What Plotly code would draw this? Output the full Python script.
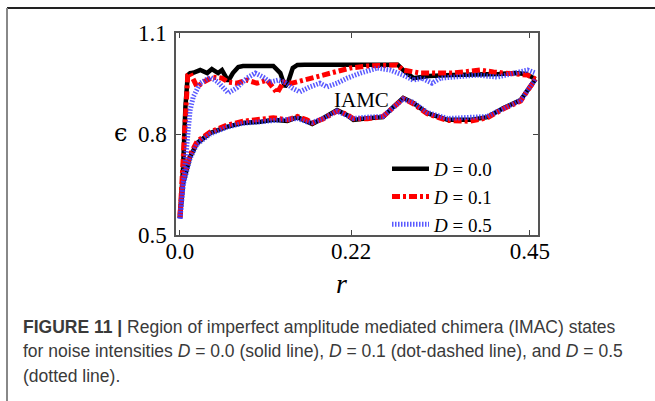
import plotly.graph_objects as go

# ---------------- data ----------------
# D = 0.0 (solid)
r_up_d0 = [0.0, 0.004, 0.007, 0.010, 0.013, 0.017, 0.026, 0.035, 0.041, 0.049, 0.054, 0.062,
           0.068, 0.075, 0.081, 0.120, 0.129, 0.135, 0.139, 0.145, 0.151, 0.160, 0.280, 0.287,
           0.300, 0.320, 0.350, 0.380, 0.410, 0.430, 0.445, 0.457]
e_up_d0 = [0.55, 0.70, 0.88, 0.975, 0.981, 0.982, 0.990, 0.981, 0.993, 0.981, 0.990, 0.957,
           0.981, 0.999, 1.002, 1.002, 0.981, 0.940, 0.954, 0.996, 1.005, 1.006, 1.006, 0.990,
           0.966, 0.972, 0.975, 0.975, 0.978, 0.981, 0.978, 0.963]
r_lo_d0 = [0.0, 0.004, 0.013, 0.022, 0.039, 0.060, 0.081, 0.103, 0.120, 0.138, 0.151, 0.163,
           0.170, 0.184, 0.202, 0.215, 0.223, 0.241, 0.261, 0.274, 0.287, 0.300, 0.318, 0.344,
           0.373, 0.395, 0.416, 0.438, 0.450, 0.457]
e_lo_d0 = [0.553, 0.654, 0.732, 0.773, 0.803, 0.821, 0.833, 0.836, 0.842, 0.839, 0.850, 0.839,
           0.830, 0.847, 0.871, 0.856, 0.842, 0.847, 0.850, 0.880, 0.907, 0.892, 0.862, 0.842,
           0.842, 0.850, 0.877, 0.901, 0.940, 0.963]

# D = 0.1 (dot-dashed)
r_up_d1 = [0.0, 0.004, 0.007, 0.010, 0.013, 0.017, 0.022, 0.030, 0.042, 0.054, 0.062, 0.073,
           0.086, 0.099, 0.112, 0.125, 0.133, 0.144, 0.158, 0.176, 0.197, 0.219, 0.241, 0.262,
           0.279, 0.287, 0.309, 0.351, 0.386, 0.403, 0.425, 0.447, 0.457]
e_up_d1 = [0.55, 0.72, 0.90, 0.975, 0.981, 0.960, 0.940, 0.954, 0.969, 0.966, 0.954, 0.951,
           0.960, 0.951, 0.960, 0.922, 0.954, 0.951, 0.960, 0.969, 0.984, 0.996, 1.002, 1.005,
           1.005, 0.990, 0.981, 0.981, 0.990, 0.984, 0.981, 0.975, 0.963]
r_lo_d1 = [0.0, 0.004, 0.013, 0.022, 0.039, 0.060, 0.081, 0.103, 0.120, 0.138, 0.151, 0.163,
           0.170, 0.184, 0.202, 0.215, 0.223, 0.241, 0.261, 0.274, 0.287, 0.300, 0.318, 0.344,
           0.373, 0.395, 0.416, 0.438, 0.450, 0.457]
e_lo_d1 = [0.560, 0.665, 0.738, 0.778, 0.806, 0.826, 0.838, 0.845, 0.848, 0.842, 0.852, 0.842,
           0.833, 0.845, 0.868, 0.858, 0.845, 0.845, 0.852, 0.878, 0.905, 0.890, 0.860, 0.840,
           0.838, 0.848, 0.875, 0.898, 0.938, 0.963]

# D = 0.5 (dotted)
r_up_d5 = [0.0, 0.004, 0.009, 0.013, 0.017, 0.026, 0.039, 0.049, 0.062, 0.073, 0.086, 0.097,
           0.107, 0.116, 0.126, 0.135, 0.144, 0.154, 0.167, 0.180, 0.189, 0.202, 0.215, 0.232,
           0.254, 0.270, 0.287, 0.300, 0.311, 0.324, 0.335, 0.356, 0.382, 0.408, 0.429, 0.447,
           0.457]
e_up_d5 = [0.55, 0.66, 0.78, 0.87, 0.910, 0.951, 0.969, 0.954, 0.922, 0.937, 0.966, 0.981,
           0.969, 0.954, 0.960, 0.954, 0.937, 0.925, 0.940, 0.951, 0.940, 0.951, 0.966, 0.981,
           0.996, 0.990, 0.975, 0.960, 0.966, 0.951, 0.966, 0.969, 0.975, 0.969, 0.981, 0.990,
           0.981]
r_lo_d5 = [0.0, 0.004, 0.013, 0.022, 0.039, 0.060, 0.081, 0.103, 0.120, 0.138, 0.151, 0.163,
           0.170, 0.184, 0.202, 0.215, 0.223, 0.241, 0.261, 0.274, 0.287, 0.300, 0.318, 0.344,
           0.373, 0.395, 0.416, 0.438, 0.450, 0.457]
e_lo_d5 = [0.548, 0.648, 0.728, 0.770, 0.800, 0.820, 0.832, 0.836, 0.840, 0.842, 0.846, 0.836,
           0.834, 0.846, 0.868, 0.854, 0.846, 0.850, 0.852, 0.878, 0.904, 0.894, 0.864, 0.846,
           0.848, 0.852, 0.876, 0.900, 0.940, 0.963]

x_tickvals = [0.0, 0.22, 0.45]
x_ticktext = ["0.0", "0.22", "0.45"]
y_tickvals = [0.5, 0.8, 1.1]
y_ticktext = ["0.5", "0.8", "1.1"]

legend_names = ["<i>D</i> = 0.0", "<i>D</i> = 0.1", "<i>D</i> = 0.5"]

# ---------------- figure ----------------
W, H = 655, 401
L, R, T, B = 176, 538, 33, 235   # plot area in pixels


def px(x):
    return (x - L) / (R - L)


def py(y):
    return (B - y) / (B - T)


serif = "Liberation Serif, Times New Roman, serif"
styles = [
    dict(color="black", width=4.5, dash="solid"),
    dict(color="rgb(255,0,0)", width=5, dash="8px,3px,3px,3px"),
    dict(color="rgba(60,60,255,0.85)", width=5, dash="1.5px,1.5px"),
]
series = [
    (r_up_d0, e_up_d0, r_lo_d0, e_lo_d0),
    (r_up_d1, e_up_d1, r_lo_d1, e_lo_d1),
    (r_up_d5, e_up_d5, r_lo_d5, e_lo_d5),
]

fig = go.Figure()
for i, (ru, eu, rl, el) in enumerate(series):
    fig.add_trace(go.Scatter(x=rl, y=el, mode="lines", line=styles[i], name=legend_names[i],
                             legendgroup=str(i), showlegend=False))
    fig.add_trace(go.Scatter(x=ru, y=eu, mode="lines", line=styles[i], name=legend_names[i],
                             legendgroup=str(i), showlegend=True))

axis_common = dict(showgrid=False, zeroline=False, showline=True, linecolor="#555",
                   linewidth=1.5, mirror="ticks", ticks="inside", ticklen=5, tickwidth=1,
                   tickcolor="#444", tickfont=dict(family=serif, size=23, color="black"))

fig.update_layout(
    width=W, height=H,
    margin=dict(l=L, r=W - R, t=T, b=H - B, autoexpand=False),
    paper_bgcolor="white", plot_bgcolor="white",
    xaxis=dict(range=[-0.0051, 0.4603], tickvals=x_tickvals, ticktext=x_ticktext,
               ticklabelstandoff=-5, **axis_common),
    yaxis=dict(range=[0.5, 1.1], tickvals=y_tickvals, ticktext=y_ticktext,
               ticklabelstandoff=3, **axis_common),
    legend=dict(x=px(387), y=py(150), xanchor="left", yanchor="top",
                bgcolor="rgba(0,0,0,0)", font=dict(family=serif, size=19, color="black"),
                tracegroupgap=0, itemwidth=37),
    showlegend=True,
)

ann = []
ann.append(dict(x=0.233, y=0.901, xref="x", yref="y", text="IAMC", showarrow=False,
                xanchor="center", yanchor="middle",
                font=dict(family=serif, size=21, color="black")))
ann.append(dict(x=px(341), y=py(283), xref="paper", yref="paper", text="<i>r</i>",
                showarrow=False, xanchor="center", yanchor="middle",
                font=dict(family=serif, size=28, color="black")))
ann.append(dict(x=px(120), y=py(133), xref="paper", yref="paper", text="ϵ",
                showarrow=False, xanchor="center", yanchor="middle",
                font=dict(family="DejaVu Serif, serif", size=24, color="black")))

cap_font = dict(family="Liberation Sans, Arial, sans-serif", size=17.5, color="#3a3a3a")
caption = [
    "<b>FIGURE 11 |</b> Region of imperfect amplitude mediated chimera (IMAC) states",
    "for noise intensities <i>D</i> = 0.0 (solid line), <i>D</i> = 0.1 (dot-dashed line), and <i>D</i> = 0.5",
    "(dotted line).",
]
for txt, yc in zip(caption, [327, 351, 376]):
    ann.append(dict(x=px(21), y=py(yc), xref="paper", yref="paper", text=txt, showarrow=False,
                    xanchor="left", yanchor="middle", font=cap_font))
fig.update_layout(annotations=ann)

# outer frame (top and left border of the figure panel)
fig.add_shape(type="line", xref="paper", yref="paper", x0=px(7), x1=px(656), y0=py(8), y1=py(8),
              line=dict(color="#222", width=2))
fig.add_shape(type="line", xref="paper", yref="paper", x0=px(7), x1=px(7), y0=py(8), y1=py(402),
              line=dict(color="#888", width=2))

fig.write_html("out.html", config={"displayModeBar": False},
               post_script="document.body.style.margin='0px';")
